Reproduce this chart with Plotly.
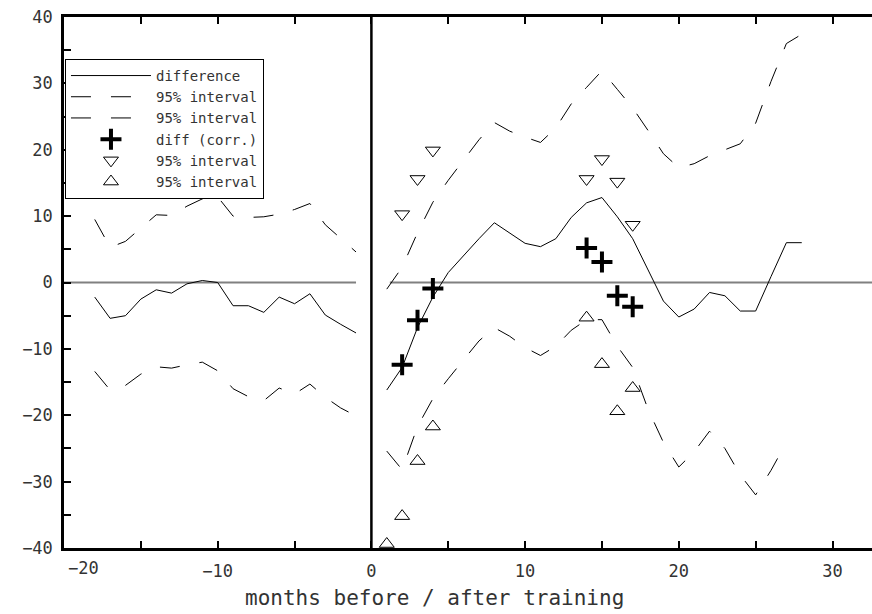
import plotly.graph_objects as go

# ---- data -------------------------------------------------------------
months_before = list(range(-18, 0))
diff_before = [-2.2, -5.4, -5.0, -2.5, -1.1, -1.6, -0.2, 0.3, 0.0, -3.5,
               -3.5, -4.5, -2.2, -3.2, -1.7, -4.9, -6.3, -7.6]
upper_before = [9.5, 5.3, 6.2, 8.2, 10.2, 10.1, 11.5, 12.6, 12.9, 10.0,
                9.8, 9.9, 10.3, 11.0, 11.9, 8.7, 6.6, 4.6]
lower_before = [-13.4, -16.2, -15.5, -13.8, -12.7, -12.9, -12.4, -12.0, -13.3, -16.0,
                -17.2, -17.8, -15.9, -16.8, -15.3, -17.3, -18.9, -20.1]

months_after = list(range(1, 29))
diff_after = [-16.2, -12.8, -6.8, -2.2, 1.5, 4.1, 6.6, 9.0, 7.4, 5.9,
              5.4, 6.6, 9.8, 12.0, 12.8, 9.9, 6.6, 2.0, -2.8, -5.2,
              -4.0, -1.5, -2.0, -4.3, -4.3, 0.9, 6.0, 6.0]
upper_after = [-1.0, 2.3, 7.5, 12.1, 15.4, 18.5, 21.5, 24.1, 22.8, 21.9,
               21.1, 23.3, 26.9, 29.4, 31.9, 29.1, 26.3, 22.9, 19.4, 17.3,
               17.9, 19.1, 20.0, 20.9, 24.0, 30.3, 36.0, 37.4]
months_after_lower = list(range(1, 28))
lower_after = [-25.4, -28.2, -21.7, -17.5, -14.5, -11.6, -8.8, -6.8, -8.1, -9.8,
               -11.0, -9.6, -7.2, -5.6, -5.6, -9.6, -12.8, -19.1, -24.1, -27.8,
               -25.5, -22.4, -25.0, -29.0, -32.0, -28.3, -24.1]

corr_x = [2, 3, 4, 14, 15, 16, 17]
corr_y = [-12.4, -5.7, -0.9, 5.2, 3.1, -2.0, -3.65]
corr_up_x = [2, 3, 4, 14, 15, 16, 17]
corr_up_y = [10.3, 15.6, 19.9, 15.6, 18.6, 15.2, 8.7]
corr_lo_x = [1, 2, 3, 4, 14, 15, 16, 17]
corr_lo_y = [-39.4, -35.2, -26.9, -21.7, -5.3, -12.3, -19.4, -15.9]

x_ticks = [-10, 0, 10, 20, 30]
y_ticks = [-40, -30, -20, -10, 0, 10, 20, 30, 40]

FONT = "DejaVu Sans Mono"
TXT = "#333"


def join(xa, ya, xb, yb):
    return list(xa) + [None] + list(xb), list(ya) + [None] + list(yb)


fig = go.Figure()

dx, dy = join(months_before, diff_before, months_after, diff_after)
ux, uy = join(months_before, upper_before, months_after, upper_after)
lx, ly = join(months_before, lower_before, months_after_lower, lower_after)

fig.add_trace(go.Scatter(x=dx, y=dy, mode="lines", name="difference",
                         line=dict(color="black", width=1), connectgaps=False))
fig.add_trace(go.Scatter(x=ux, y=uy, mode="lines", name="95% interval",
                         line=dict(color="black", width=1, dash="20px,20px"),
                         connectgaps=False))
fig.add_trace(go.Scatter(x=lx, y=ly, mode="lines", name="95% interval",
                         line=dict(color="black", width=1, dash="20px,20px"),
                         connectgaps=False))
fig.add_trace(go.Scatter(x=corr_x, y=corr_y, mode="markers", name="diff (corr.)",
                         marker=dict(symbol="cross-thin", size=15,
                                     line=dict(color="black", width=4))))
fig.add_trace(go.Scatter(x=corr_up_x, y=corr_up_y, mode="markers", name="95% interval",
                         marker=dict(symbol="triangle-down-open", size=13, color="black",
                                     line=dict(color="black", width=1))))
fig.add_trace(go.Scatter(x=corr_lo_x, y=corr_lo_y, mode="markers", name="95% interval",
                         marker=dict(symbol="triangle-up-open", size=13, color="black",
                                     line=dict(color="black", width=1))))

# reference lines
fig.add_shape(type="line", xref="x", yref="y", x0=-20, x1=-1, y0=0, y1=0,
              line=dict(color="#808080", width=2), layer="below")
fig.add_shape(type="line", xref="x", yref="y", x0=1.2, x1=33, y0=0, y1=0,
              line=dict(color="#808080", width=2), layer="below")
fig.add_shape(type="line", xref="x", yref="paper", x0=0, x1=0, y0=0, y1=1,
              line=dict(color="black", width=2.5))

axis_common = dict(showgrid=False, zeroline=False, showline=True, linecolor="black",
                   linewidth=2.5, ticks="inside", ticklen=7, tickwidth=1.5,
                   tickcolor="black", tickfont=dict(family=FONT, size=17, color=TXT))

fig.update_xaxes(range=[-20, 32.57], tickmode="array", tickvals=x_ticks,
                 ticktext=[str(v).replace("-", "\u2212") for v in x_ticks],
                 mirror="ticks", ticklabelstandoff=6,
                 minor=dict(ticks="inside", dtick=5, tick0=0, ticklen=7, tickwidth=1.5,
                            tickcolor="black"),
                 **axis_common)
fig.update_yaxes(range=[-40, 40], tickmode="array", tickvals=y_ticks,
                 mirror=False, ticklabelstandoff=5,
                 minor=dict(ticks="inside", dtick=5, tick0=0, ticklen=7, tickwidth=1.5,
                            tickcolor="black"),
                 **axis_common)

fig.add_annotation(x=-20, y=0, xref="x", yref="paper", text="\u221220",
                   showarrow=False, xanchor="left", yanchor="top", xshift=2, yshift=-8,
                   font=dict(family=FONT, size=17, color=TXT))
fig.add_annotation(x=0.458, y=-0.094, xref="paper", yref="paper",
                   text="months before / after training", showarrow=False,
                   xanchor="center", yanchor="middle",
                   font=dict(family=FONT, size=21, color=TXT))

fig.update_layout(
    width=872, height=614,
    margin=dict(l=64, r=0, t=17, b=66),
    paper_bgcolor="white", plot_bgcolor="white",
    showlegend=True,
    legend=dict(x=0.0012, y=0.921, xanchor="left", yanchor="top",
                bgcolor="white", bordercolor="black", borderwidth=1,
                font=dict(family=FONT, size=14, color=TXT),
                itemwidth=80, tracegroupgap=0),
)

fig.write_html("out.html")
